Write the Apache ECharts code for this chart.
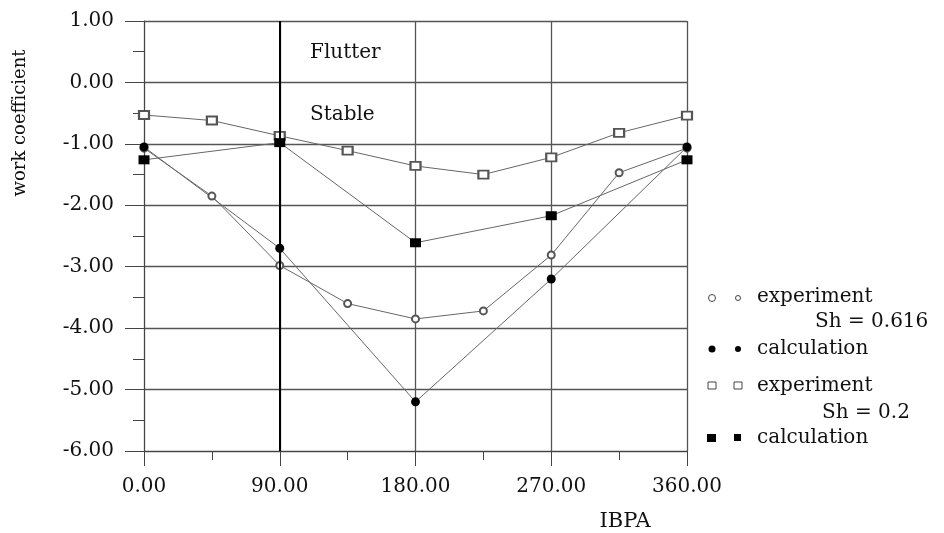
<!DOCTYPE html>
<html><head><meta charset="utf-8">
<script src="https://cdn.jsdelivr.net/npm/echarts@6/dist/echarts.min.js"></script>
<style>html,body{margin:0;padding:0;background:#fff}#c{width:944px;height:533px}</style>
</head><body><div id="c"></div>
<script>
const ibpaExp = [0, 45, 90, 135, 180, 225, 270, 315, 360];
const ibpaCalc = [0, 90, 180, 270, 360];
const exp616 = [-1.07, -1.85, -2.98, -3.60, -3.85, -3.72, -2.81, -1.47, -1.07];
const calc616 = [-1.05, -2.70, -5.20, -3.20, -1.05];
const exp02 = [-0.53, -0.62, -0.87, -1.11, -1.36, -1.50, -1.22, -0.82, -0.54];
const calc02 = [-1.26, -0.98, -2.61, -2.17, -1.26];
const xTicks = [0, 90, 180, 270, 360];
const yTicks = [1, 0, -1, -2, -3, -4, -5, -6];
const flutterLine = 90;

const FONT = '"DejaVu Serif", "Liberation Serif", serif';
const TXT = '#111';
const pair = (xs, ys) => xs.map((x, i) => [x, ys[i]]);
const lineStyle = { color: '#666', width: 1 };
const txt = (x, y, s, size, align) => ({ type: 'text', x, y,
  style: { text: s, font: size + 'px ' + FONT, fill: TXT, verticalAlign: 'middle', align: align || 'left' } });

const chart = echarts.init(document.getElementById('c'), null, { renderer: 'canvas' });
chart.setOption({
  animation: false,
  grid: { left: 144, right: 257, top: 21, bottom: 82, containLabel: false },
  xAxis: {
    type: 'value', min: 0, max: 360, interval: 90,
    axisLine: { show: true, onZero: false, lineStyle: { color: '#444', width: 1 } },
    axisTick: { show: true, inside: false, length: 15, lineStyle: { color: '#444' } },
    minorTick: { show: true, splitNumber: 2, length: 9, lineStyle: { color: '#444' } },
    splitLine: { show: true, lineStyle: { color: '#555', width: 1.3 } },
    axisLabel: { fontFamily: FONT, fontSize: 20, color: TXT, margin: 26,
      formatter: v => xTicks.includes(v) ? v.toFixed(2) : '' }
  },
  yAxis: {
    type: 'value', min: -6, max: 1, interval: 1,
    axisLine: { show: true, onZero: false, lineStyle: { color: '#444', width: 1 } },
    axisTick: { show: true, inside: false, length: 19, lineStyle: { color: '#444' } },
    minorTick: { show: true, splitNumber: 2, length: 11, lineStyle: { color: '#444' } },
    splitLine: { show: true, lineStyle: { color: '#555', width: 1.3 } },
    axisLabel: { fontFamily: FONT, fontSize: 20, color: TXT, margin: 30,
      formatter: v => yTicks.includes(v) ? v.toFixed(2) : '' }
  },
  series: [
    { name: 'exp616', type: 'line', data: pair(ibpaExp, exp616), symbol: 'emptyCircle', symbolSize: 7,
      lineStyle, itemStyle: { color: '#555', borderColor: '#555', borderWidth: 1 },
      markLine: { silent: true, symbol: 'none', label: { show: false },
        lineStyle: { color: '#000', width: 2, type: 'solid' }, data: [{ xAxis: flutterLine }] } },
    { name: 'calc616', type: 'line', data: pair(ibpaCalc, calc616), symbol: 'circle', symbolSize: 9,
      lineStyle, itemStyle: { color: '#000' } },
    { name: 'exp02', type: 'line', data: pair(ibpaExp, exp02), symbol: 'emptyRect', symbolSize: [10, 8],
      lineStyle, itemStyle: { color: '#555', borderColor: '#555', borderWidth: 1 } },
    { name: 'calc02', type: 'line', data: pair(ibpaCalc, calc02), symbol: 'rect', symbolSize: [11, 9],
      lineStyle, itemStyle: { color: '#000' } }
  ],
  graphic: [
    Object.assign(txt(20, 123, 'work coefficient', 18, 'center'), { rotation: Math.PI / 2 }),
    txt(625, 522, 'IBPA', 21, 'center'),
    txt(310, 53, 'Flutter', 20),
    txt(310, 115, 'Stable', 20),
    // legend
    { type: 'circle', shape: { cx: 712, cy: 298, r: 3.5 }, style: { fill: '#fff', stroke: '#444', lineWidth: 1 } },
    { type: 'circle', shape: { cx: 738, cy: 298, r: 2.5 }, style: { fill: '#fff', stroke: '#444', lineWidth: 1 } },
    txt(757, 297, 'experiment', 20),
    txt(815, 322, 'Sh = 0.616', 20),
    { type: 'circle', shape: { cx: 712, cy: 349, r: 3.5 }, style: { fill: '#000' } },
    { type: 'circle', shape: { cx: 738, cy: 349, r: 3 }, style: { fill: '#000' } },
    txt(757, 349, 'calculation', 20),
    { type: 'rect', shape: { x: 708, y: 382, width: 8, height: 7 }, style: { fill: '#fff', stroke: '#444', lineWidth: 1 } },
    { type: 'rect', shape: { x: 734, y: 382, width: 8, height: 7 }, style: { fill: '#fff', stroke: '#444', lineWidth: 1 } },
    txt(757, 386, 'experiment', 20),
    txt(822, 413, 'Sh = 0.2', 20),
    { type: 'rect', shape: { x: 707, y: 434, width: 9, height: 8 }, style: { fill: '#000' } },
    { type: 'rect', shape: { x: 734, y: 434, width: 7, height: 7 }, style: { fill: '#000' } },
    txt(757, 438, 'calculation', 20)
  ]
});
</script></body></html>
